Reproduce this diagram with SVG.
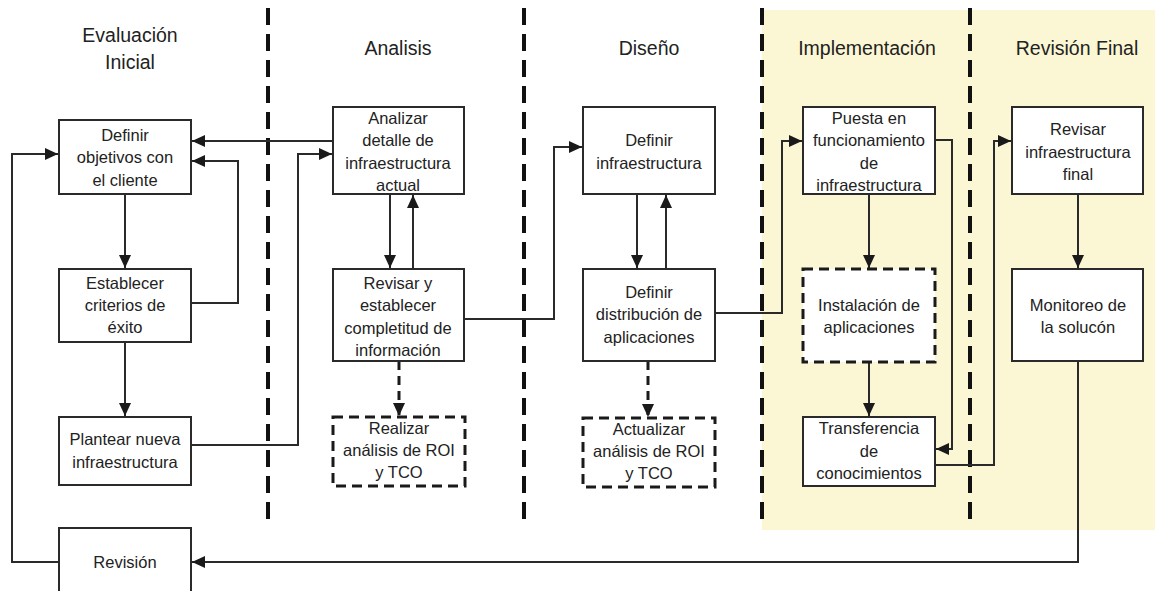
<svg xmlns="http://www.w3.org/2000/svg" width="1155" height="591" viewBox="0 0 1155 591">
  <style>
    .box { fill: #ffffff; stroke: #2a2a2a; stroke-width: 2; }
    .dbox { fill: #ffffff; stroke: #1a1a1a; stroke-width: 3; stroke-dasharray: 10 6; }
    .t { font-family: "Liberation Sans", Arial, sans-serif; font-size: 16.5px; fill: #222; text-anchor: middle; }
    .h { font-family: "Liberation Sans", Arial, sans-serif; font-size: 19.5px; fill: #222; text-anchor: middle; }
    .sep { stroke: #111; stroke-width: 4; stroke-dasharray: 17 9; fill: none; }
    .c { fill: none; stroke: #2a2a2a; stroke-width: 2; }
    .cd { fill: none; stroke: #1a1a1a; stroke-width: 3; stroke-dasharray: 9 6; }
  </style>
  <defs>
    <marker id="arr" markerUnits="userSpaceOnUse" markerWidth="14" markerHeight="12" refX="13" refY="6" orient="auto">
      <path d="M0,0 L13,6 L0,12 Z" fill="#1a1a1a"/>
    </marker>
  </defs>

  <rect width="1155" height="591" fill="#ffffff"/>
  <!-- shaded phases -->
  <rect x="762" y="10" width="393" height="520" fill="#fbf7d4"/>

  <!-- phase separators -->
  <g id="separators">
    <line class="sep" x1="268" y1="8" x2="268" y2="528"/>
    <line class="sep" x1="524" y1="8" x2="524" y2="528"/>
    <line class="sep" x1="762" y1="8" x2="762" y2="528"/>
    <line class="sep" x1="970" y1="8" x2="970" y2="528"/>
  </g>

  <!-- phase titles -->
  <g id="titles">
    <text class="h" x="130" y="42">Evaluación</text>
    <text class="h" x="130" y="69">Inicial</text>
    <text class="h" x="398" y="55">Analisis</text>
    <text class="h" x="649" y="55">Diseño</text>
    <text class="h" x="867" y="55">Implementación</text>
    <text class="h" x="1077" y="55">Revisión Final</text>
  </g>

  <!-- connectors -->
  <g id="connectors">
    <path class="c" d="M125,194 V268" marker-end="url(#arr)"/>
    <path class="c" d="M125,342 V416" marker-end="url(#arr)"/>
    <path class="c" d="M191,303 H238 V161 H192" marker-end="url(#arr)"/>
    <path class="c" d="M333,141 H192" marker-end="url(#arr)"/>
    <path class="c" d="M191,445 H298 V154 H332" marker-end="url(#arr)"/>
    <path class="c" d="M59,562 H12 V154 H58" marker-end="url(#arr)"/>
    <path class="c" d="M390,194 V268" marker-end="url(#arr)"/>
    <path class="c" d="M413,269 V195" marker-end="url(#arr)"/>
    <path class="cd" d="M399,361 V416" marker-end="url(#arr)"/>
    <path class="c" d="M464,319 H554 V147 H582" marker-end="url(#arr)"/>
    <path class="c" d="M637,194 V268" marker-end="url(#arr)"/>
    <path class="c" d="M666,269 V195" marker-end="url(#arr)"/>
    <path class="cd" d="M648,361 V417" marker-end="url(#arr)"/>
    <path class="c" d="M715,313 H782 V141 H802" marker-end="url(#arr)"/>
    <path class="c" d="M869,194 V268" marker-end="url(#arr)"/>
    <path class="c" d="M869,362 V416" marker-end="url(#arr)"/>
    <path class="c" d="M935,140 H952 V449 H936" marker-end="url(#arr)"/>
    <path class="c" d="M935,465 H994 V141 H1011" marker-end="url(#arr)"/>
    <path class="c" d="M1078,194 V268" marker-end="url(#arr)"/>
    <path class="c" d="M1078,361 V562 H192" marker-end="url(#arr)"/>
  </g>

  <!-- Evaluación Inicial -->
  <g id="definir-objetivos">
    <rect class="box" x="59" y="120" width="132" height="74"/>
    <text class="t" x="125" y="141">Definir</text>
    <text class="t" x="125" y="163">objetivos con</text>
    <text class="t" x="125" y="186">el cliente</text>
  </g>
  <g id="establecer-criterios">
    <rect class="box" x="59" y="269" width="132" height="73"/>
    <text class="t" x="125" y="289">Establecer</text>
    <text class="t" x="125" y="311">criterios de</text>
    <text class="t" x="125" y="333">éxito</text>
  </g>
  <g id="plantear-infraestructura">
    <rect class="box" x="59" y="417" width="132" height="68"/>
    <text class="t" x="125" y="445">Plantear nueva</text>
    <text class="t" x="125" y="468">infraestructura</text>
  </g>
  <g id="revision">
    <rect class="box" x="59" y="528" width="132" height="72"/>
    <text class="t" x="125" y="568">Revisión</text>
  </g>

  <!-- Analisis -->
  <g id="analizar-detalle">
    <rect class="box" x="333" y="107" width="131" height="87"/>
    <text class="t" x="398" y="124">Analizar</text>
    <text class="t" x="398" y="146">detalle de</text>
    <text class="t" x="398" y="169">infraestructura</text>
    <text class="t" x="398" y="191">actual</text>
  </g>
  <g id="revisar-completitud">
    <rect class="box" x="333" y="269" width="131" height="92"/>
    <text class="t" x="398" y="289">Revisar y</text>
    <text class="t" x="398" y="311">establecer</text>
    <text class="t" x="398" y="334">completitud de</text>
    <text class="t" x="398" y="356">información</text>
  </g>
  <g id="realizar-roi">
    <rect class="dbox" x="333" y="417" width="132" height="69"/>
    <text class="t" x="399" y="434">Realizar</text>
    <text class="t" x="399" y="456">análisis de ROI</text>
    <text class="t" x="399" y="478">y TCO</text>
  </g>

  <!-- Diseño -->
  <g id="definir-infraestructura">
    <rect class="box" x="583" y="107" width="132" height="87"/>
    <text class="t" x="649" y="146">Definir</text>
    <text class="t" x="649" y="169">infraestructura</text>
  </g>
  <g id="definir-distribucion">
    <rect class="box" x="583" y="269" width="132" height="92"/>
    <text class="t" x="649" y="298">Definir</text>
    <text class="t" x="649" y="320">distribución de</text>
    <text class="t" x="649" y="343">aplicaciones</text>
  </g>
  <g id="actualizar-roi">
    <rect class="dbox" x="583" y="418" width="132" height="69"/>
    <text class="t" x="649" y="435">Actualizar</text>
    <text class="t" x="649" y="457">análisis de ROI</text>
    <text class="t" x="649" y="479">y TCO</text>
  </g>

  <!-- Implementación -->
  <g id="puesta-funcionamiento">
    <rect class="box" x="803" y="107" width="132" height="87"/>
    <text class="t" x="869" y="124">Puesta en</text>
    <text class="t" x="869" y="146">funcionamiento</text>
    <text class="t" x="869" y="169">de</text>
    <text class="t" x="869" y="191">infraestructura</text>
  </g>
  <g id="instalacion-aplicaciones">
    <rect class="dbox" x="803" y="269" width="132" height="93"/>
    <text class="t" x="869" y="311">Instalación de</text>
    <text class="t" x="869" y="333">aplicaciones</text>
  </g>
  <g id="transferencia-conocimientos">
    <rect class="box" x="803" y="417" width="132" height="69"/>
    <text class="t" x="869" y="434">Transferencia</text>
    <text class="t" x="869" y="457">de</text>
    <text class="t" x="869" y="479">conocimientos</text>
  </g>

  <!-- Revisión Final -->
  <g id="revisar-infraestructura-final">
    <rect class="box" x="1012" y="107" width="131" height="87"/>
    <text class="t" x="1078" y="135">Revisar</text>
    <text class="t" x="1078" y="158">infraestructura</text>
    <text class="t" x="1078" y="180">final</text>
  </g>
  <g id="monitoreo">
    <rect class="box" x="1012" y="269" width="131" height="92"/>
    <text class="t" x="1078" y="311">Monitoreo de</text>
    <text class="t" x="1078" y="333">la solucón</text>
  </g>
</svg>
